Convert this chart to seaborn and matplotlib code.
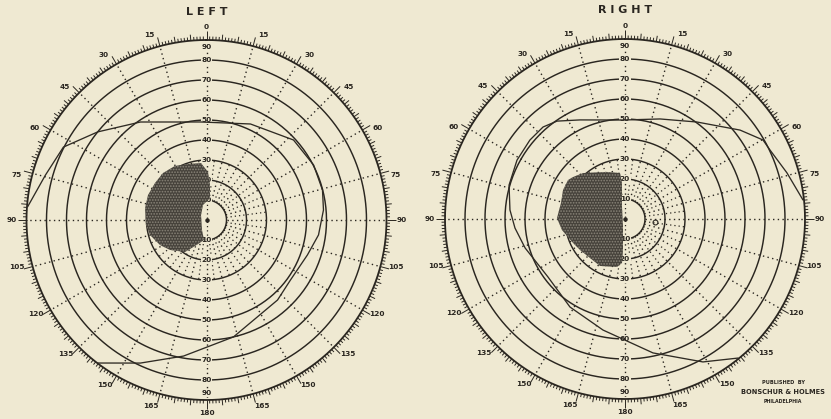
import numpy as np
import pandas as pd
import matplotlib
matplotlib.use("Agg")
import matplotlib.pyplot as plt
import seaborn as sns
from matplotlib.patches import Polygon
from matplotlib.collections import LineCollection

# ---------------------------------------------------------------- data
TITLES = ["L E F T", "R I G H T"]
CENTERS = [(206.5, 220.0), (625.0, 219.0)]   # chart centres, pixel space
PX_PER_DEG = 2.0                              # radial scale

RING_ECC = [10, 20, 30, 40, 50, 60, 70, 80]   # solid isopter guide circles
RING_LABELS = ["10", "20", "30", "40", "50", "60", "70", "80", "90"]
LIMIT_ECC = 90                                # outer graduated circle
MERIDIAN_STEP = 15
SCALE_LABELS = [0, 15, 30, 45, 60, 75, 90, 105, 120, 135, 150, 165, 180]

# plotted field boundary (meridian clockwise from top, eccentricity in degrees)
LEFT_ISO_ANGLE = [274.2, 285.6, 297.0, 309.0, 326.0, 356.5, 24.6, 47.4, 62.8,
                  75.5, 85.1, 97.6, 109.1, 125.5, 138.4, 167.0, 189.6, 204.8, 217.3]
LEFT_ISO_ECC = [89.7, 83.6, 80.3, 70.0, 59.1, 49.1, 52.8, 59.1, 60.2,
                59.9, 58.7, 56.5, 53.4, 51.6, 53.5, 60.0, 69.0, 78.8, 89.9]

RIGHT_ISO_ANGLE = [83.9, 74.1, 64.6, 60.2, 52.3, 36.6, 19.3, 358.8, 335.6, 325.2,
                   318.3, 309.7, 298.6, 286.3, 274.5, 265.3, 253.8, 233.0, 212.0,
                   191.2, 168.2, 151.4, 140.9]
RIGHT_ISO_ECC = [89.5, 84.2, 80.3, 79.5, 72.7, 60.4, 53.0, 49.5, 54.4, 59.6,
                 61.6, 61.8, 61.5, 60.4, 57.7, 55.2, 52.0, 48.2, 51.9,
                 56.6, 68.4, 81.4, 89.6]

# central scotomas
LEFT_SCOTOMA_ANGLE = [340.8, 354.5, 1.8, 5.7, 9.0, 346.9, 312.3, 204.2, 187.1, 203.9,
                      213.9, 230.6, 241.7, 255.1, 265.3, 281.0, 293.1, 305.7, 317.2, 329.7]
LEFT_SCOTOMA_ECC = [29.6, 28.6, 24.0, 17.6, 11.1, 7.7, 3.7, 5.5, 10.1, 14.2,
                    19.3, 23.6, 26.4, 29.2, 30.4, 31.3, 31.8, 31.7, 32.0, 31.3]

RIGHT_SCOTOMA_ANGLE = [308.9, 317.6, 339.0, 353.8, 355.2, 346.0, 194.0, 183.7, 183.9,
                       189.5, 208.0, 221.9, 235.4, 245.2, 260.1, 270.8, 284.0, 295.1, 304.4]
RIGHT_SCOTOMA_ECC = [33.4, 31.1, 25.2, 23.1, 18.1, 6.2, 4.1, 15.5, 22.0,
                     24.3, 26.6, 26.2, 27.3, 28.6, 32.0, 34.0, 33.0, 34.2, 34.5]

RIGHT_BLIND_SPOT = (96.0, 15.0)

ISO_ANGLES = [LEFT_ISO_ANGLE, RIGHT_ISO_ANGLE]
ISO_ECCS = [LEFT_ISO_ECC, RIGHT_ISO_ECC]
SCOT_ANGLES = [LEFT_SCOTOMA_ANGLE, RIGHT_SCOTOMA_ANGLE]
SCOT_ECCS = [LEFT_SCOTOMA_ECC, RIGHT_SCOTOMA_ECC]

PAPER = "#EFE9D2"
INK = "#2A2620"
ISO_INK = "#2F2B24"
DOTS = (0, (1.0, 2.4))


def polar_xy(center, angle_deg, ecc):
    a = np.radians(np.asarray(angle_deg, dtype=float))
    r = np.asarray(ecc, dtype=float) * PX_PER_DEG
    return center[0] + r * np.sin(a), center[1] - r * np.cos(a)


# ---------------------------------------------------------------- figure
sns.set_theme(style="white")
plt.rcParams["font.family"] = ["DejaVu Sans"]
plt.rcParams["hatch.linewidth"] = 0.8

fig = plt.figure(figsize=(8.31, 4.19), dpi=100)
fig.patch.set_facecolor(PAPER)
ax = fig.add_axes([0, 0, 1, 1])
ax.set_facecolor(PAPER)

label_box = dict(boxstyle="square,pad=0.08", fc=PAPER, ec="none")

for k, c in enumerate(CENTERS):
    cx, cy = c

    # dotted meridians
    for m in range(0, 360, MERIDIAN_STEP):
        xs, ys = polar_xy(c, [m, m], [10, LIMIT_ECC])
        ax.plot(xs, ys, color=INK, lw=1.0, ls=DOTS, dash_capstyle="butt", zorder=1)
    for m in np.arange(MERIDIAN_STEP / 2, 360, MERIDIAN_STEP):
        xs, ys = polar_xy(c, [m, m], [10, 30])
        ax.plot(xs, ys, color=INK, lw=0.9, ls=DOTS, dash_capstyle="butt", zorder=1)
    xs, ys = polar_xy(c, [0, 180], [10, 10])
    ax.plot(xs, ys, color=INK, lw=0.9, ls=DOTS, dash_capstyle="butt", zorder=1)

    # concentric circles
    theta = np.arange(0, 361, 1.0)
    rows = []
    for e in RING_ECC:
        xs, ys = polar_xy(c, theta, np.full_like(theta, e))
        rows.append(pd.DataFrame({"x": xs, "y": ys, "ring": e}))
    rings = pd.concat(rows, ignore_index=True)
    sns.lineplot(data=rings, x="x", y="y", units="ring", estimator=None,
                 sort=False, color=INK, lw=1.05, ax=ax, zorder=2)
    xs, ys = polar_xy(c, theta, np.full_like(theta, LIMIT_ECC))
    ax.plot(xs, ys, color=INK, lw=1.3, zorder=2)

    # graduations of the outer circle
    segs = []
    r0 = LIMIT_ECC * PX_PER_DEG
    for d in range(360):
        if d % MERIDIAN_STEP == 0:
            ln = 9.0
        elif d % 5 == 0:
            ln = 6.0
        else:
            ln = 3.5
        a = np.radians(d)
        segs.append([(cx + r0 * np.sin(a), cy - r0 * np.cos(a)),
                     (cx + (r0 + ln) * np.sin(a), cy - (r0 + ln) * np.cos(a))])
    ax.add_collection(LineCollection(segs, colors=INK, linewidths=0.7, zorder=2))

    # meridian numbers round the rim
    for v in SCALE_LABELS:
        sides = [1] if v in (0, 180) else [1, -1]
        for s in sides:
            off = 0.0 if v in (0, 90, 180) else (1.5 if v < 90 else -1.0)
            a = np.radians(s * (v + off))
            rl = 193.0
            x = cx + rl * np.sin(a) + (0 if v in (0, 180) else s * 2)
            y = cy - rl * np.cos(a)
            ax.text(x, y, str(v), fontsize=5.3, fontweight="bold", color=INK,
                    ha="center", va="center", zorder=3)

    # eccentricity numbers along the vertical meridian
    for e, lab in zip(RING_ECC + [LIMIT_ECC], RING_LABELS):
        rr = e * PX_PER_DEG if e != LIMIT_ECC else 173
        for sgn in (-1, 1):
            ax.text(cx, cy + sgn * rr, lab, fontsize=5.3, fontweight="bold",
                    color=INK, ha="center", va="center", bbox=label_box, zorder=4)

    # field boundary
    xs, ys = polar_xy(c, ISO_ANGLES[k], ISO_ECCS[k])
    iso = pd.DataFrame({"x": xs, "y": ys})
    sns.lineplot(data=iso, x="x", y="y", estimator=None, sort=False,
                 color=ISO_INK, lw=0.95, ax=ax, zorder=5)

    # scotoma
    xs, ys = polar_xy(c, SCOT_ANGLES[k], SCOT_ECCS[k])
    ax.add_patch(Polygon(np.column_stack([xs, ys]), closed=True,
                         facecolor="#46423B", edgecolor="#85807420", lw=0,
                         zorder=6))
    ax.add_patch(Polygon(np.column_stack([xs, ys]), closed=True,
                         facecolor="none", edgecolor="#8A8579", lw=0,
                         hatch="......", zorder=6))

    # fixation point
    ax.plot([cx], [cy], marker="o", ms=2.2, color=INK, zorder=7)

    # title
    ax.text(cx, 12 if k == 0 else 10, TITLES[k], fontsize=8, fontweight="bold",
            color=INK, ha="center", va="center", zorder=3)

# blind spot on the right chart
bx, by = polar_xy(CENTERS[1], [RIGHT_BLIND_SPOT[0]], [RIGHT_BLIND_SPOT[1]])
ax.plot(bx, by, marker="o", ms=3.5, mfc="none", mec=INK, mew=0.8, zorder=7)

# imprint
ax.text(783, 382, "PUBLISHED  BY", fontsize=3.6, fontweight="bold", color=INK,
        ha="center", va="center")
ax.text(783, 392, "BONSCHUR & HOLMES", fontsize=4.8, fontweight="bold", color=INK,
        ha="center", va="center")
ax.text(783, 401, "PHILADELPHIA", fontsize=3.4, fontweight="bold", color=INK,
        ha="center", va="center")

ax.set_xlim(0, 831)
ax.set_ylim(419, 0)
ax.set_aspect("auto")
ax.axis("off")
fig.savefig("out.png", dpi=100, facecolor=PAPER)
